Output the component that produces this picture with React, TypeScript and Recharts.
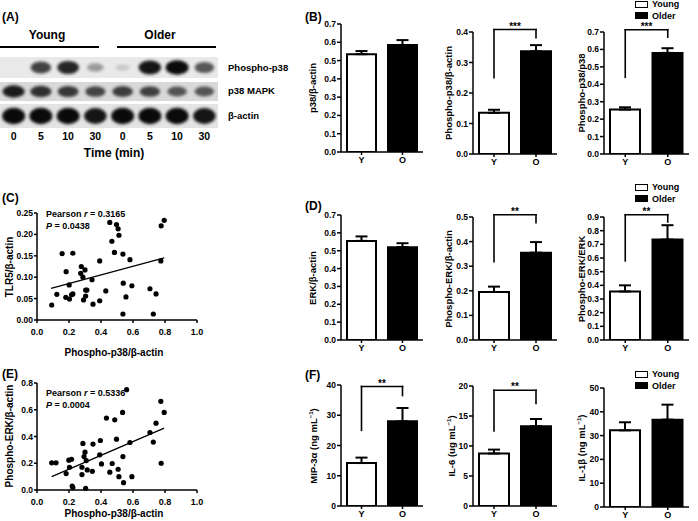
import React from 'react';
import {
  BarChart,
  Bar,
  Cell,
  XAxis,
  YAxis,
  ErrorBar,
  ReferenceLine,
  ScatterChart,
  Scatter,
} from 'recharts';

const FONT = '"Liberation Sans", Arial, Helvetica, sans-serif';

// (A) western blot, band intensity per lane (0 = none, 1 = saturated)
const laneLabels = ['0', '5', '10', '30', '0', '5', '10', '30'];
const ageGroups = ['Young', 'Older'];
const phosphoP38Bands = [0, 0.75, 0.88, 0.35, 0.14, 0.95, 1, 0.65];
const p38Bands = [0.92, 0.82, 0.78, 0.72, 0.76, 0.74, 0.64, 0.64];
const actinBands = [1, 1, 1, 0.95, 1, 1, 1, 0.95];

// bar panels: Y = young, O = older
const groups = ['Y', 'O'];
const p38Actin = [0.535, 0.585];
const p38ActinErr = [0.017, 0.027];
const phP38Actin = [0.135, 0.337];
const phP38ActinErr = [0.01, 0.02];
const phP38P38 = [0.255, 0.58];
const phP38P38Err = [0.013, 0.027];
const erkActin = [0.555, 0.52];
const erkActinErr = [0.025, 0.022];
const phErkActin = [0.195, 0.355];
const phErkActinErr = [0.022, 0.043];
const phErkErk = [0.355, 0.735];
const phErkErkErr = [0.045, 0.105];
const mip3a = [14.2, 28.0];
const mip3aErr = [1.8, 4.4];
const il6 = [8.75, 13.3];
const il6Err = [0.65, 1.2];
const il1b = [32.2, 36.7];
const il1bErr = [3.4, 6.3];

const ticks07 = [0, 0.1, 0.2, 0.3, 0.4, 0.5, 0.6, 0.7];
const ticks04 = [0, 0.1, 0.2, 0.3, 0.4];
const ticks05 = [0, 0.1, 0.2, 0.3, 0.4, 0.5];
const ticks09 = [0, 0.1, 0.2, 0.3, 0.4, 0.5, 0.6, 0.7, 0.8, 0.9];
const ticks40 = [0, 10, 20, 30, 40];
const ticks20 = [0, 5, 10, 15, 20];
const ticks50 = [0, 10, 20, 30, 40, 50];

// (C) TLR5/b-actin vs phospho-p38/b-actin
const cX = [0.092, 0.124, 0.157, 0.182, 0.18, 0.201, 0.203, 0.216, 0.224, 0.224, 0.277, 0.273, 0.287, 0.3, 0.291, 0.304, 0.304, 0.312, 0.344, 0.35, 0.392, 0.392, 0.43, 0.455, 0.468, 0.484, 0.497, 0.507, 0.512, 0.537, 0.539, 0.537, 0.556, 0.581, 0.593, 0.706, 0.727, 0.744, 0.774, 0.776, 0.795];
const cY = [0.035, 0.06, 0.155, 0.113, 0.053, 0.082, 0.049, 0.059, 0.061, 0.156, 0.125, 0.109, 0.1, 0.117, 0.047, 0.056, 0.07, 0.07, 0.094, 0.037, 0.138, 0.045, 0.068, 0.228, 0.184, 0.158, 0.223, 0.213, 0.198, 0.154, 0.086, 0.014, 0.054, 0.141, 0.08, 0.073, 0.014, 0.061, 0.138, 0.22, 0.233];
const cFit = [[0.088, 0.074], [0.795, 0.145]];

// (E) phospho-ERK/b-actin vs phospho-p38/b-actin
const eX = [0.092, 0.119, 0.182, 0.199, 0.203, 0.216, 0.22, 0.224, 0.281, 0.281, 0.287, 0.294, 0.3, 0.304, 0.308, 0.314, 0.35, 0.346, 0.396, 0.392, 0.403, 0.434, 0.455, 0.47, 0.486, 0.497, 0.507, 0.512, 0.537, 0.541, 0.535, 0.56, 0.581, 0.593, 0.706, 0.727, 0.744, 0.774, 0.776, 0.795];
const eY = [0.203, 0.203, 0.123, 0.223, 0.17, 0.23, 0.03, 0.018, 0.17, 0.115, 0.348, 0.25, 0.283, 0.013, 0.22, 0.15, 0.343, 0.14, 0.37, 0.263, 0.195, 0.538, 0.133, 0.198, 0.525, 0.38, 0.155, 0.1, 0.25, 0.055, 0.58, 0.75, 0.355, 0.1, 0.43, 0.358, 0.5, 0.663, 0.2, 0.58];
const eFit = [[0.092, 0.1], [0.795, 0.4625]];

const xTicks = [0, 0.2, 0.4, 0.6, 0.8, 1.0];
const cTicks = [0, 0.05, 0.1, 0.15, 0.2, 0.25];
const eTicks = [0, 0.2, 0.4, 0.6, 0.8];

const tickStyle = { fill: '#000', fontSize: 8.5, fontWeight: 700, fontFamily: FONT };
const axisStyle = { stroke: '#000', strokeWidth: 1.5 };

const Txt = ({ x, y, size = 9, anchor = 'start', rotate = false, children }: any) => {
  const tx = anchor === 'middle' ? '-50%' : anchor === 'end' ? '-100%' : '0';
  return (
    <div
      style={{
        position: 'absolute',
        left: x,
        top: y,
        fontSize: size,
        fontWeight: 700,
        fontFamily: FONT,
        lineHeight: 1,
        whiteSpace: 'nowrap',
        color: '#000',
        transform: rotate ? 'translate(-50%,-50%) rotate(-90deg)' : `translate(${tx},-50%)`,
      }}
    >
      {children}
    </div>
  );
};

const Band = ({ cx, cy, payload, h }: any) => {
  const v = payload.v;
  if (!v) return null;
  return (
    <ellipse
      cx={cx}
      cy={cy}
      rx={6.5 + 5 * v}
      ry={h * (0.12 + 0.22 * v)}
      fill="#0a0a0a"
      opacity={Math.min(1, v)}
      style={{ filter: 'blur(1.4px)' }}
    />
  );
};

const BlotRow = ({ top, height, bg, bands, showLanes = false }: any) => {
  const XH = showLanes ? 22 : 0;
  const data = bands.map((v: number, i: number) => ({ lane: i, y: 0.5, v }));
  return (
    <div style={{ position: 'absolute', left: 0, top, width: 218, height, background: bg }}>
      <div style={{ position: 'absolute', left: 0, top: 0 }}>
        <ScatterChart width={218} height={height + XH} margin={{ top: 0, right: 0, bottom: 0, left: 0 }}>
          <XAxis
            type="number"
            dataKey="lane"
            domain={[-0.5, 7.5]}
            ticks={[0, 1, 2, 3, 4, 5, 6, 7]}
            interval={0}
            hide={!showLanes}
            height={XH}
            tickFormatter={(i: number) => laneLabels[i]}
            axisLine={false}
            tickLine={false}
            tickSize={0}
            tickMargin={5}
            tick={{ ...tickStyle, fontSize: 10.5 }}
          />
          <YAxis type="number" dataKey="y" domain={[0, 1]} hide width={0} />
          <Scatter data={data} isAnimationActive={false} shape={(p: any) => <Band {...p} h={height} />} />
        </ScatterChart>
      </div>
    </div>
  );
};

const BarPanel = ({ x, top, bottom, plotW, barW, vals, errs, yMax, ticks, digits, bracket, label, labelX }: any) => {
  const MT = 26;
  const YW = 30;
  const XH = 18;
  const data = groups.map((g, i) => ({ g, v: vals[i], err: [0, errs[i]] }));
  return (
    <>
      <div style={{ position: 'absolute', left: x - YW, top: top - MT }}>
        <BarChart
          width={YW + plotW + 4}
          height={MT + bottom - top + XH}
          data={data}
          margin={{ top: MT, right: 4, bottom: 0, left: 0 }}
        >
          <XAxis
            dataKey="g"
            height={XH}
            interval={0}
            tickSize={3}
            tickMargin={2}
            axisLine={axisStyle}
            tickLine={axisStyle}
            tick={{ ...tickStyle, fontSize: 9 }}
          />
          <YAxis
            type="number"
            domain={[0, yMax]}
            ticks={ticks}
            interval={0}
            allowDataOverflow
            width={YW}
            tickSize={4}
            tickMargin={1}
            tickFormatter={(v: number) => v.toFixed(digits)}
            axisLine={axisStyle}
            tickLine={axisStyle}
            tick={tickStyle}
          />
          <Bar dataKey="v" barSize={barW} stroke="#000" strokeWidth={2} isAnimationActive={false}>
            {data.map((d, i) => (
              <Cell key={d.g} fill={i === 0 ? '#fff' : '#000'} />
            ))}
            <ErrorBar dataKey="err" width={6} stroke="#000" strokeWidth={2} direction="y" />
          </Bar>
          {bracket && (
            <ReferenceLine
              segment={[{ x: 'Y', y: bracket.left }, { x: 'Y', y: bracket.top }]}
              stroke="#000"
              strokeWidth={1.6}
              strokeLinecap="square"
              ifOverflow="visible"
            />
          )}
          {bracket && (
            <ReferenceLine
              segment={[{ x: 'Y', y: bracket.top }, { x: 'O', y: bracket.top }]}
              stroke="#000"
              strokeWidth={1.6}
              strokeLinecap="square"
              ifOverflow="visible"
              label={{ value: bracket.stars, position: 'top', offset: 0, fill: '#000', fontSize: 10, fontWeight: 700, fontFamily: FONT }}
            />
          )}
          {bracket && (
            <ReferenceLine
              segment={[{ x: 'O', y: bracket.right }, { x: 'O', y: bracket.top }]}
              stroke="#000"
              strokeWidth={1.6}
              strokeLinecap="square"
              ifOverflow="visible"
            />
          )}
        </BarChart>
      </div>
      <Txt x={labelX} y={(top + bottom) / 2} size={9.5} rotate>
        {label}
      </Txt>
    </>
  );
};

const ScatterPanel = ({ x, top, bottom, right, xs, ys, yMax, yTicks, yDigits, fit }: any) => {
  const YW = 37;
  const MT = 8;
  const XH = 22;
  const data = xs.map((v: number, i: number) => ({ x: v, y: ys[i] }));
  return (
    <div style={{ position: 'absolute', left: x - YW, top: top - MT }}>
      <ScatterChart
        width={YW + right - x + 8}
        height={MT + bottom - top + XH}
        margin={{ top: MT, right: 8, bottom: 0, left: 0 }}
      >
        <XAxis
          type="number"
          dataKey="x"
          domain={[0, 1]}
          ticks={xTicks}
          interval={0}
          height={XH}
          tickSize={3}
          tickMargin={6}
          tickFormatter={(v: number) => v.toFixed(1)}
          axisLine={axisStyle}
          tickLine={axisStyle}
          tick={{ ...tickStyle, fontSize: 9 }}
        />
        <YAxis
          type="number"
          dataKey="y"
          domain={[0, yMax]}
          ticks={yTicks}
          interval={0}
          width={YW}
          tickSize={3}
          tickMargin={1}
          tickFormatter={(v: number) => v.toFixed(yDigits)}
          axisLine={axisStyle}
          tickLine={axisStyle}
          tick={{ ...tickStyle, fontSize: 8.5 }}
        />
        <ReferenceLine
          segment={[{ x: fit[0][0], y: fit[0][1] }, { x: fit[1][0], y: fit[1][1] }]}
          stroke="#000"
          strokeWidth={1.3}
        />
        <Scatter
          data={data}
          isAnimationActive={false}
          shape={(p: any) => <circle cx={p.cx} cy={p.cy} r={2.6} fill="#000" />}
        />
      </ScatterChart>
    </div>
  );
};

const Legend = ({ x, y }: any) => (
  <>
    {ageGroups.map((name, i) => (
      <React.Fragment key={name}>
        <div
          style={{
            position: 'absolute',
            left: x,
            top: y + i * 11.5 - 3.5,
            width: 13,
            height: 7,
            border: '1.5px solid #000',
            boxSizing: 'border-box',
            background: i === 0 ? '#fff' : '#000',
          }}
        />
        <Txt x={x + 17} y={y + i * 11.5}>
          {name}
        </Txt>
      </React.Fragment>
    ))}
  </>
);

const Unit = ({ name, unit }: any) => (
  <span>
    {name} ({unit} mL<sup style={{ fontSize: 6, verticalAlign: 'super', lineHeight: 0 }}>−1</sup>)
  </span>
);

export default function App() {
  return (
    <div
      style={{
        position: 'absolute',
        left: 0,
        top: 0,
        width: 698,
        height: 521,
        background: '#fff',
        overflow: 'hidden',
        fontFamily: FONT,
      }}
    >
      {/* (A) blot */}
      <Txt x={2} y={17} size={12}>(A)</Txt>
      <Txt x={47} y={35} size={12} anchor="middle">{ageGroups[0]}</Txt>
      <Txt x={160} y={35} size={12} anchor="middle">{ageGroups[1]}</Txt>
      <div style={{ position: 'absolute', left: 0, top: 46, width: 99, height: 1.5, background: '#000' }} />
      <div style={{ position: 'absolute', left: 117, top: 46, width: 99, height: 1.5, background: '#000' }} />
      <BlotRow top={57} height={21} bg="#e9e9e9" bands={phosphoP38Bands} />
      <BlotRow top={82} height={19} bg="#d9d9d9" bands={p38Bands} />
      <BlotRow top={104} height={24} bg="#e4e4e4" bands={actinBands} showLanes />
      <Txt x={228} y={68} size={9.5}>Phospho-p38</Txt>
      <Txt x={228} y={91} size={9.5}>p38 MAPK</Txt>
      <Txt x={228} y={116} size={9.5}>β-actin</Txt>
      <Txt x={114} y={153} size={12} anchor="middle">Time (min)</Txt>

      {/* (B) */}
      <Txt x={305} y={17} size={12}>(B)</Txt>
      <BarPanel x={341} top={24} bottom={152} plotW={82} barW={29} vals={p38Actin} errs={p38ActinErr}
        yMax={0.7} ticks={ticks07} digits={1} label="p38/β-actin" labelX={313} />
      <BarPanel x={473} top={32} bottom={154} plotW={84} barW={30} vals={phP38Actin} errs={phP38ActinErr}
        yMax={0.4} ticks={ticks04} digits={1} label="Phospho-p38/β-actin" labelX={449}
        bracket={{ top: 0.408, left: 0.25, right: 0.381, stars: '***' }} />
      <BarPanel x={604} top={32} bottom={154} plotW={85} barW={30} vals={phP38P38} errs={phP38P38Err}
        yMax={0.7} ticks={ticks07} digits={1} label="Phospho-p38/p38" labelX={582}
        bracket={{ top: 0.713, left: 0.44, right: 0.67, stars: '***' }} />
      <Legend x={635} y={4} />

      {/* (C) */}
      <Txt x={2} y={198} size={12}>(C)</Txt>
      <ScatterPanel x={37} top={213} bottom={320} right={197} xs={cX} ys={cY} yMax={0.25}
        yTicks={cTicks} yDigits={2} fit={cFit} />
      <Txt x={46} y={214}>Pearson <i>r</i> = 0.3165</Txt>
      <Txt x={46} y={226}><i>P</i> = 0.0438</Txt>
      <Txt x={10} y={267} size={10} rotate>TLR5/β-actin</Txt>
      <Txt x={114} y={353} size={10} anchor="middle">Phospho-p38/β-actin</Txt>

      {/* (D) */}
      <Txt x={305} y={206} size={12}>(D)</Txt>
      <BarPanel x={341} top={215} bottom={340} plotW={82} barW={29} vals={erkActin} errs={erkActinErr}
        yMax={0.7} ticks={ticks07} digits={1} label="ERK/β-actin" labelX={313} />
      <BarPanel x={473} top={217} bottom={340} plotW={84} barW={30} vals={phErkActin} errs={phErkActinErr}
        yMax={0.5} ticks={ticks05} digits={1} label="Phospho-ERK/β-actin" labelX={449}
        bracket={{ top: 0.509, left: 0.318, right: 0.477, stars: '**' }} />
      <BarPanel x={604} top={217} bottom={340} plotW={85} barW={30} vals={phErkErk} errs={phErkErkErr}
        yMax={0.9} ticks={ticks09} digits={1} label="Phospho-ERK/ERK" labelX={582}
        bracket={{ top: 0.917, left: 0.579, right: 0.864, stars: '**' }} />
      <Legend x={635} y={187} />

      {/* (E) */}
      <Txt x={2} y={374} size={12}>(E)</Txt>
      <ScatterPanel x={37} top={383} bottom={490} right={197} xs={eX} ys={eY} yMax={0.8}
        yTicks={eTicks} yDigits={1} fit={eFit} />
      <Txt x={46} y={393}>Pearson <i>r</i> = 0.5336</Txt>
      <Txt x={46} y={405}><i>P</i> = 0.0004</Txt>
      <Txt x={10} y={436} size={10} rotate>Phospho-ERK/β-actin</Txt>
      <Txt x={114} y={514} size={10} anchor="middle">Phospho-p38/β-actin</Txt>

      {/* (F) */}
      <Txt x={305} y={375} size={12}>(F)</Txt>
      <BarPanel x={341} top={385} bottom={506} plotW={82} barW={29} vals={mip3a} errs={mip3aErr}
        yMax={40} ticks={ticks40} digits={0} label={<Unit name="MIP-3α" unit="ng" />} labelX={314}
        bracket={{ top: 39.5, left: 25, right: 36.5, stars: '**' }} />
      <BarPanel x={473} top={386} bottom={506} plotW={84} barW={30} vals={il6} errs={il6Err}
        yMax={20} ticks={ticks20} digits={0} label={<Unit name="IL-6" unit="ug" />} labelX={452}
        bracket={{ top: 19.3, left: 12.5, right: 17.1, stars: '**' }} />
      <BarPanel x={604} top={388} bottom={507} plotW={85} barW={30} vals={il1b} errs={il1bErr}
        yMax={50} ticks={ticks50} digits={0} label={<Unit name="IL-1β" unit="ng" />} labelX={582} />
      <Legend x={635} y={374} />
    </div>
  );
}
